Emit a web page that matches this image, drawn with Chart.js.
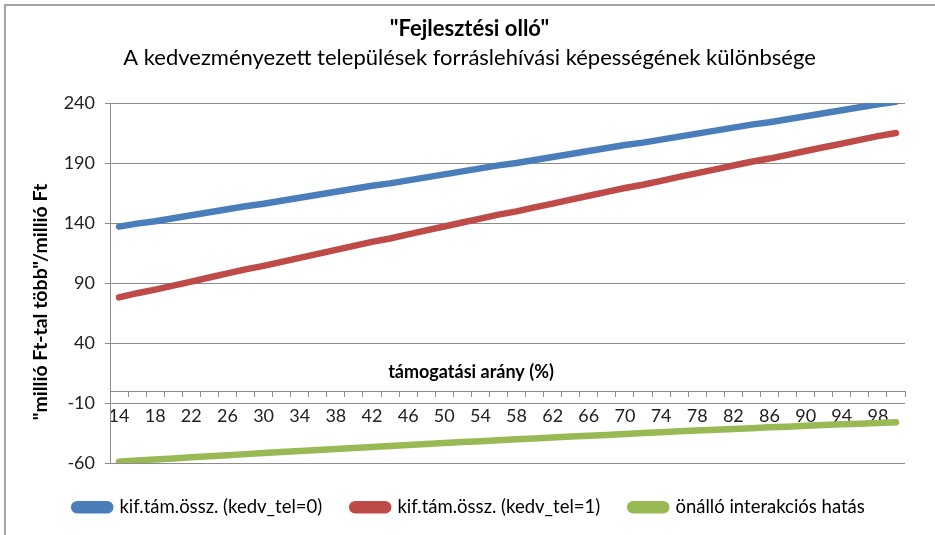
<!DOCTYPE html>
<html><head><meta charset="utf-8">
<script src="https://cdn.jsdelivr.net/npm/chart.js@4.4.1/dist/chart.umd.min.js"></script>
<style>
html,body{margin:0;padding:0;background:#fff;overflow:hidden;}
#wrap{position:relative;width:935px;height:535px;overflow:hidden;}
#frame{position:absolute;left:4px;top:4px;width:960px;height:560px;border-left:2px solid #a3a3a3;border-top:2px solid #a3a3a3;}
canvas{position:absolute;left:0;top:0;}
</style></head><body>
<div id="wrap"><div id="frame"></div><canvas id="c" width="935" height="535"></canvas></div>
<script>
// ---- data ----
const categories = ['14','16','18','20','22','24','26','28','30','32','34','36','38','40','42','44','46','48','50','52','54','56','58','60','62','64','66','68','70','72','74','76','78','80','82','84','86','88','90','92','94','96','98','100'];
const xTickLabels = ['14','18','22','26','30','34','38','42','46','50','54','58','62','66','70','74','78','82','86','90','94','98'];
const seriesNames = ['kif.tám.össz. (kedv_tel=0)','kif.tám.össz. (kedv_tel=1)','önálló interakciós hatás'];
const blueValues = [137,139.5,141.5,144,146.5,149,151.5,154,156,158.5,161,163.5,166,168.5,171,173,175.5,178,180.5,183,185.5,188,190,192.5,195,197.5,200,202.5,205,207,209.5,212,214.5,217,219.5,222,224,226.5,229,231.5,234,236.5,239,241];
const redValues = [78,81.5,84.5,87.8,91.2,94.6,98,101.4,104.3,107.6,111,114.3,117.6,121,124.3,127.1,130.5,133.8,137.1,140.4,143.7,147,149.7,153,156.2,159.5,162.7,165.9,169.2,171.9,175.1,178.4,181.6,184.7,187.9,191,193.7,196.8,200,203.1,206.2,209.3,212.4,215];
const greenValues = [-59,-58,-57,-56.2,-55.3,-54.4,-53.5,-52.6,-51.7,-50.9,-50,-49.2,-48.4,-47.5,-46.7,-45.9,-45,-44.2,-43.4,-42.6,-41.8,-41,-40.3,-39.5,-38.8,-38,-37.3,-36.6,-35.8,-35.1,-34.4,-33.6,-32.9,-32.3,-31.6,-31,-30.3,-29.7,-29,-28.4,-27.8,-27.2,-26.6,-26];
const yMin = -60, yMax = 240, yStep = 50;
const titleText = '"Fejlesztési olló"';
const subtitleText = 'A kedvezményezett települések forráslehívási képességének különbsége';
const yTitleText = '"millió Ft-tal több"/millió Ft';
const xTitleText = 'támogatási arány (%)';

// ---- styles ----
const FONT = 'Lato, "Open Sans", sans-serif';
const GRID = '#8c8c8c';
const colors = ['#4A7EBB', '#BE4B48', '#98B954'];

const axisTitles = {
  id: 'axisTitles',
  afterDraw(chart) {
    const ctx = chart.ctx;
    ctx.save();
    ctx.fillStyle = '#000';
    ctx.textAlign = 'center';
    ctx.textBaseline = 'middle';
    ctx.font = 'bold 18px ' + FONT;
    ctx.fillText(xTitleText, 471, 372);
    ctx.font = 'bold 19.5px ' + FONT;
    ctx.translate(41, 302);
    ctx.rotate(-Math.PI / 2);
    ctx.fillText(yTitleText, 0, 0);
    ctx.restore();
  }
};

const mk = (label, data, color) => ({
  label, data,
  borderColor: color, backgroundColor: color,
  borderWidth: 6.5, pointRadius: 0, pointHoverRadius: 0,
  tension: 0, borderCapStyle: 'round', borderJoinStyle: 'round', fill: false
});

new Chart(document.getElementById('c'), {
  type: 'line',
  data: {
    labels: categories,
    datasets: [
      mk(seriesNames[0], blueValues, colors[0]),
      mk(seriesNames[1], redValues, colors[1]),
      mk(seriesNames[2], greenValues, colors[2])
    ]
  },
  options: {
    responsive: false, animation: false, devicePixelRatio: 1,
    layout: { padding: { left: 34, right: 30, top: 0, bottom: 8.5 } },
    plugins: {
      tooltip: { enabled: false },
      title: { display: true, text: titleText, color: '#000',
        font: { family: FONT, size: 22, weight: 'bold', lineHeight: 1.2 },
        padding: { top: 16, bottom: 0 } },
      subtitle: { display: true, text: subtitleText, color: '#000',
        font: { family: FONT, size: 22, weight: 'normal', lineHeight: 1.2 },
        padding: { top: 2.5, bottom: 31.7 } },
      legend: {
        position: 'bottom', align: 'center',
        title: { display: true, text: '', font: { size: 5, lineHeight: 1 }, padding: 0 },
        labels: { color: '#000', font: { family: FONT, size: 18.5 }, boxWidth: 36, boxHeight: 6,
          useBorderRadius: true, borderRadius: 3, padding: 30 }
      }
    },
    scales: {
      x: {
        type: 'category', offset: true,
        position: { y: 0 },
        grid: { display: true, drawOnChartArea: false, drawTicks: true, tickLength: 5, color: GRID, offset: true },
        border: { display: true, color: GRID, width: 1 },
        ticks: { autoSkip: false, maxRotation: 0, minRotation: 0, padding: 9, color: '#222',
          font: { family: FONT, size: 18 },
          callback: function(v, i) { const l = categories[i]; return xTickLabels.includes(l) ? l : ''; } }
      },
      y: {
        min: yMin, max: yMax,
        afterFit: (s) => { s.width = 76; },
        grid: { color: GRID, tickLength: 5, drawTicks: true },
        border: { display: true, color: GRID },
        ticks: { stepSize: yStep, padding: 10, color: '#222', font: { family: FONT, size: 18 } }
      }
    }
  },
  plugins: [axisTitles]
});
</script>
</body></html>
